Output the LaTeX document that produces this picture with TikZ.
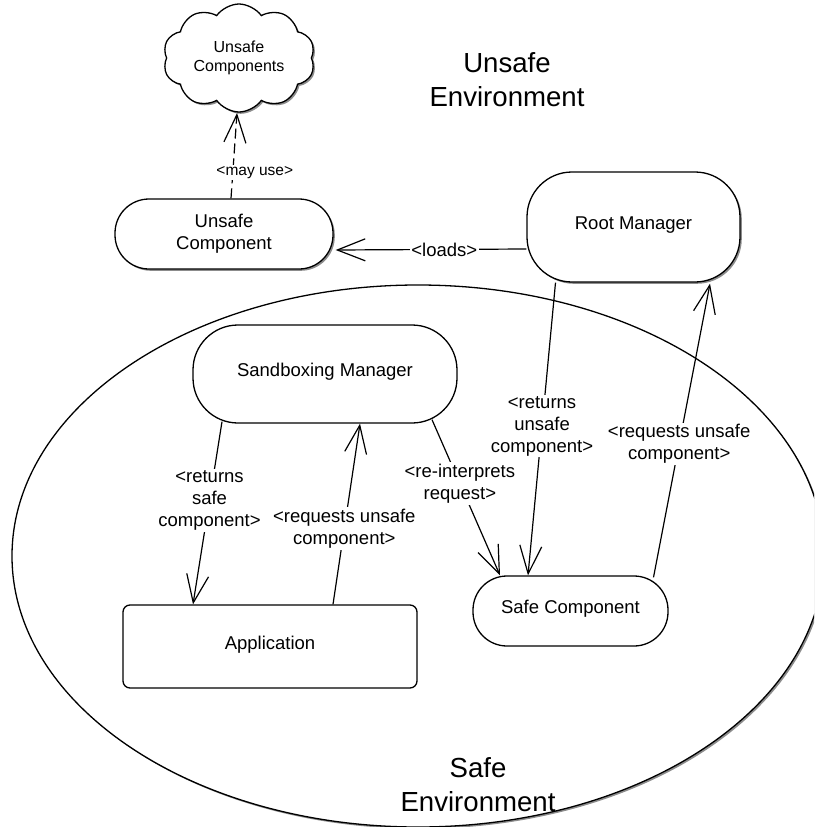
\documentclass[tikz,border=0pt]{standalone}
\usepackage{fontspec}
\setmainfont{Liberation Sans}
\usetikzlibrary{arrows.meta,shapes.symbols,shapes.geometric,shadows,calc}
\begin{document}
\begin{tikzpicture}[x=1pt,y=-1pt,
  every node/.style={font=\fontsize{18.5}{22}\selectfont},
  box/.style={draw, line width=1.3pt, fill=white, rounded corners=#1, inner sep=0pt, align=center},
  lift/.style={text height=13pt, text depth=8pt},
  shade/.style={drop shadow={shadow xshift=1.8pt, shadow yshift=-1.8pt, opacity=0.45, fill=black}},
  conn/.style={line width=1.2pt, -{Straight Barb[length=28pt,width=22pt,line width=1.2pt]}},
  lbl/.style={fill=white, inner sep=1.5pt, align=center},
  big/.style={font=\fontsize{27.6}{34}\selectfont, align=center}]
\useasboundingbox (0,0) rectangle (814,827);
\clip (0,0) rectangle (814,827);
\fill[white] (0,0) rectangle (814,827);

% safe environment
\node[ellipse, draw, line width=1.3pt, fill=white, shade, minimum width=812pt, minimum height=542pt, inner sep=0pt] (env) at (418,556) {};

\node[big] (ue) at (507,80) {Unsafe\\Environment};
\node[big] (se) at (478,785) {Safe\\Environment};

% nodes
\node[cloud, draw, cloud puffs=10, cloud puff arc=110, aspect=1.45, minimum width=152pt, minimum height=108pt, fill=white, shade, line width=1.3pt, inner sep=0pt, font=\fontsize{16}{19.5}\selectfont, align=center] (cl) at (239,58) {Unsafe\\Components};
\node[box=34pt, shade, minimum width=218pt, minimum height=70pt] (uc) at (224,234) {Unsafe\\Component};
\node[box=45pt, shade, lift, minimum width=213pt, minimum height=110pt] (rm) at (633.5,227) {Root Manager};
\node[box=45pt, lift, minimum width=264pt, minimum height=98pt] (sm) at (325,374) {Sandboxing Manager};
\node[box=7pt, lift, minimum width=294pt, minimum height=83pt] (app) at (270,646.5) {Application};
\node[box=34pt, lift, minimum width=195pt, minimum height=70pt] (sc) at (570.5,611) {Safe Component};

% connectors
\draw[conn] ($(rm.west)+(0,22)$) -- node[lbl,pos=0.43]{<loads>} ($(uc.east)+(2,16)$);
\draw[conn, dash pattern=on 10pt off 5pt] ($(uc.north)+(7,0)$) -- node[lbl,pos=0.3,xshift=22pt,font=\fontsize{15.5}{18}\selectfont]{<may use>} ($(cl.center)+(-2,55)$);
\draw[conn] ($(rm.south)+(-78,0)$) -- node[lbl,pos=0.49]{<returns\\unsafe\\component>} ($(sc.north)+(-42.5,0)$);
\draw[conn] ($(sc.north)+(83,2)$) -- node[lbl,pos=0.455]{<requests unsafe\\component>} ($(rm.south)+(76.5,1)$);
\draw[conn] ($(sm.south)+(107,-4)$) -- node[lbl,pos=0.41]{<re-interprets\\request>} ($(sc.north)+(-70.5,0)$);
\draw[conn] ($(sm.south)+(-103,-2)$) -- node[lbl,pos=0.43]{<returns\\safe\\component>} ($(app.north)+(-77,0)$);
\draw[conn] ($(app.north)+(63,0)$) -- node[lbl,pos=0.42]{<requests unsafe\\component>} ($(sm.south)+(35,0)$);
\end{tikzpicture}
\end{document}
